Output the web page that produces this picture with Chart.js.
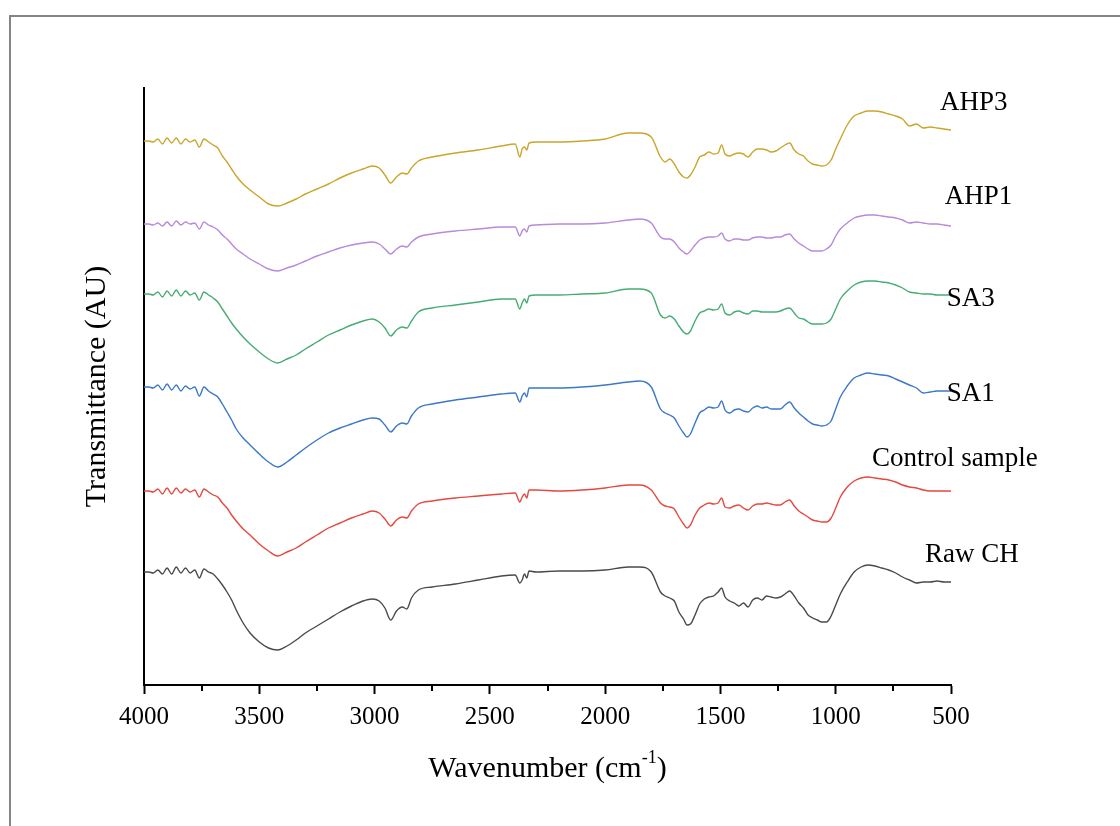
<!DOCTYPE html>
<html><head><meta charset="utf-8">
<script src="https://cdn.jsdelivr.net/npm/chart.js@4.4.0/dist/chart.umd.min.js"></script>
<style>html,body{margin:0;padding:0;background:#fff;}#wrap{width:1120px;height:826px;position:relative;}</style>
</head><body><div id="wrap"><canvas id="c" width="1120" height="826"></canvas></div>
<script>
// Wavenumber grid (cm-1)
const wavenumbers = [
 4000,3980,3960,3940,3920,3900,3880,3860,3840,3820,
 3800,3780,3760,3740,3720,3700,3680,3660,3640,3620,
 3600,3570,3540,3500,3460,3420,3380,3340,3300,3250,
 3200,3150,3100,3050,3010,2980,2955,2930,2905,2880,
 2860,2840,2810,2750,2650,2550,2450,2390,2370,2360,
 2350,2340,2330,2300,2200,2100,2000,1900,1850,1800,
 1760,1740,1720,1700,1680,1660,1645,1630,1610,1590,
 1570,1550,1530,1510,1495,1480,1460,1440,1420,1400,
 1380,1360,1340,1320,1300,1280,1260,1240,1220,1200,
 1180,1160,1140,1120,1100,1080,1060,1040,1020,1000,
 980,950,920,890,860,830,800,770,740,710,
 680,650,620,590,560,530,500];

// Transmittance (AU, offset-stacked)
const ahp3 = [
 544,544,543,546,541,547,542,547,541,546,
 543,545,538,546,543,540,537,529,523,516,
 509,501,495,488,481,479,482,486,491,496,
 501,507,512,516,519,517,510,502,508,512,
 511,517,524,528,532,535,539,541,528,536,
 538,535,542,543,543,544,546,552,552,548,
 528,523,526,521,513,508,507,510,518,528,
 530,533,531,532,540,531,529,531,532,531,
 528,533,536,536,535,533,534,537,540,542,
 535,531,529,524,521,520,519,520,525,536,
 546,560,569,572,574,574,573,571,569,566,
 559,561,557,558,557,556,555];
const ahp1 = [
 461,461,460,462,459,463,459,464,460,463,
 461,462,456,463,460,458,455,450,446,441,
 436,431,426,421,416,414,417,420,424,429,
 433,437,440,442,443,441,436,431,436,439,
 438,443,448,451,454,456,458,458,449,454,
 456,453,459,460,461,461,462,465,466,462,
 448,446,446,443,437,433,431,434,440,445,
 447,448,448,449,452,446,444,446,446,445,
 445,447,448,448,447,447,448,448,450,451,
 446,442,439,436,434,434,434,436,440,449,
 456,462,467,469,470,470,469,468,467,465,
 462,463,462,461,461,460,459];
const sa3 = [
 391,391,390,393,388,394,389,395,389,394,
 390,392,385,393,390,387,383,376,369,362,
 356,348,341,333,326,322,326,330,336,343,
 350,355,360,364,366,363,357,349,355,358,
 357,364,373,377,380,383,386,386,376,382,
 386,382,389,390,390,391,392,396,396,392,
 370,367,369,366,359,353,351,354,364,372,
 374,376,375,376,381,372,370,373,374,372,
 371,374,374,373,373,373,373,374,376,377,
 372,367,366,363,361,361,361,362,366,376,
 386,394,400,403,404,404,403,402,400,397,
 393,392,391,391,390,390,390];
const sa1 = [
 298,298,297,300,295,301,295,300,294,299,
 296,298,289,298,294,291,288,281,273,265,
 256,247,240,231,223,218,223,230,237,245,
 252,257,261,265,267,266,260,253,259,262,
 261,269,277,281,285,288,291,292,283,289,
 292,288,297,297,297,298,300,303,304,298,
 276,272,270,267,259,252,248,251,262,272,
 275,278,277,278,284,275,272,275,276,274,
 273,277,279,277,278,276,276,276,280,283,
 277,272,268,264,261,260,259,260,264,276,
 288,299,307,310,312,311,310,309,306,303,
 300,297,292,293,294,294,294];
const control = [
 194,194,193,196,191,197,191,197,192,196,
 193,195,188,196,193,190,188,182,177,170,
 164,156,150,141,134,129,133,137,143,150,
 157,162,167,171,174,172,166,159,165,168,
 167,174,181,184,187,189,191,192,183,188,
 191,187,195,195,194,195,197,200,200,195,
 182,179,178,176,168,161,157,160,170,177,
 180,182,181,182,187,178,177,179,180,177,
 175,179,181,181,182,181,180,180,183,185,
 179,174,171,168,165,164,163,163,167,177,
 188,198,204,207,208,207,206,205,203,200,
 198,197,195,194,194,194,194];
const rawCH = [
 113,113,112,115,111,117,111,118,112,117,
 112,115,107,116,113,111,106,100,93,85,
 75,62,52,43,37,35,39,45,52,59,
 66,73,79,84,86,84,77,65,74,78,
 76,87,95,98,101,105,109,110,102,105,
 111,107,114,113,114,114,115,118,118,113,
 93,89,87,84,73,66,60,61,70,81,
 86,88,89,93,97,88,84,82,79,82,
 78,85,87,85,89,88,87,88,91,94,
 89,82,77,70,67,65,63,63,69,80,
 91,103,113,118,120,119,117,115,112,108,
 105,102,103,103,104,103,103];

const seriesNames = ['AHP3','AHP1','SA3','SA1','Control sample','Raw CH'];
const seriesValues = [ahp3, ahp1, sa3, sa1, control, rawCH];
const seriesColors = ['#cba52a','#b88ada','#45ad73','#3b78c8','#e5483f','#4a4a4a'];
const xTickLabels = [4000,3500,3000,2500,2000,1500,1000,500];
const xTitle = 'Wavenumber (cm';
const xTitleSup = '-1';
const yTitle = 'Transmittance (AU)';

// label anchors in data coordinates [wavenumber, AU]
const labelAnchors = [[548,582],[527,488],[518,386],[518,291],[843,226],[613,130]];

const SERIF = "'Liberation Serif','Times New Roman',serif";

const deco = {
  id: 'deco',
  beforeDraw(chart) {
    const ctx = chart.ctx;
    ctx.save();
    ctx.fillStyle = '#fff';
    ctx.fillRect(0, 0, chart.width, chart.height);
    ctx.strokeStyle = '#858585';
    ctx.lineWidth = 2;
    ctx.beginPath();
    ctx.moveTo(10, chart.height);
    ctx.lineTo(10, 16);
    ctx.lineTo(chart.width, 16);
    ctx.stroke();
    ctx.restore();
  },
  afterDraw(chart) {
    const ctx = chart.ctx;
    const xs = chart.scales.x, ys = chart.scales.y;
    const area = chart.chartArea;
    ctx.save();
    // minor ticks
    ctx.strokeStyle = '#000';
    ctx.lineWidth = 2;
    for (let v = 750; v < 4000; v += 500) {
      const px = Math.round(xs.getPixelForValue(v));
      ctx.beginPath();
      ctx.moveTo(px, area.bottom);
      ctx.lineTo(px, area.bottom + 6);
      ctx.stroke();
    }
    // series labels
    ctx.fillStyle = '#000';
    ctx.font = '27px ' + SERIF;
    ctx.textAlign = 'left';
    ctx.textBaseline = 'middle';
    seriesNames.forEach((n, i) => {
      const [w, v] = labelAnchors[i];
      ctx.fillText(n, xs.getPixelForValue(w), ys.getPixelForValue(v));
    });
    // x title with superscript
    const cx = (area.left + area.right) / 2;
    const ty = area.bottom + 84;
    ctx.font = '30px ' + SERIF;
    const w1 = ctx.measureText(xTitle).width;
    ctx.font = '18px ' + SERIF;
    const w2 = ctx.measureText(xTitleSup).width;
    ctx.font = '30px ' + SERIF;
    const w3 = ctx.measureText(')').width;
    let x0 = cx - (w1 + w2 + w3) / 2;
    ctx.textAlign = 'left';
    ctx.textBaseline = 'middle';
    ctx.fillText(xTitle, x0, ty);
    ctx.font = '18px ' + SERIF;
    ctx.fillText(xTitleSup, x0 + w1, ty - 11);
    ctx.font = '30px ' + SERIF;
    ctx.fillText(')', x0 + w1 + w2, ty);
    // y title
    ctx.translate(area.left - 47, (area.top + area.bottom) / 2);
    ctx.rotate(-Math.PI / 2);
    ctx.textAlign = 'center';
    ctx.fillText(yTitle, 0, 0);
    ctx.restore();
  }
};

new Chart(document.getElementById('c'), {
  type: 'line',
  data: {
    datasets: seriesNames.map((n, i) => ({
      label: n,
      data: wavenumbers.map((w, j) => ({x: w, y: seriesValues[i][j]})),
      borderColor: seriesColors[i],
      borderWidth: 1.4,
      pointRadius: 0,
      cubicInterpolationMode: 'monotone',
      fill: false
    }))
  },
  options: {
    responsive: false,
    animation: false,
    devicePixelRatio: 1,
    layout: {padding: {left: 144, top: 88, right: 169, bottom: 81}},
    plugins: {legend: {display: false}, tooltip: {enabled: false}},
    scales: {
      x: {
        type: 'linear', reverse: true, min: 500, max: 4000,
        afterFit: s => { s.height = 60; },
        afterBuildTicks: s => { s.ticks = xTickLabels.map(v => ({value: v})); },
        ticks: {autoSkip: false, maxRotation: 0, color: '#000', padding: 8,
          font: {family: SERIF, size: 25}, callback: v => String(v)},
        grid: {display: true, drawOnChartArea: false, drawTicks: true, tickLength: 9, tickWidth: 2, tickColor: '#000'},
        border: {display: true, color: '#000', width: 2}
      },
      y: {
        min: 0, max: 597,
        afterFit: s => { s.width = 0; },
        ticks: {display: false},
        grid: {display: false},
        border: {display: true, color: '#000', width: 2}
      }
    }
  },
  plugins: [deco]
});
</script></body></html>
